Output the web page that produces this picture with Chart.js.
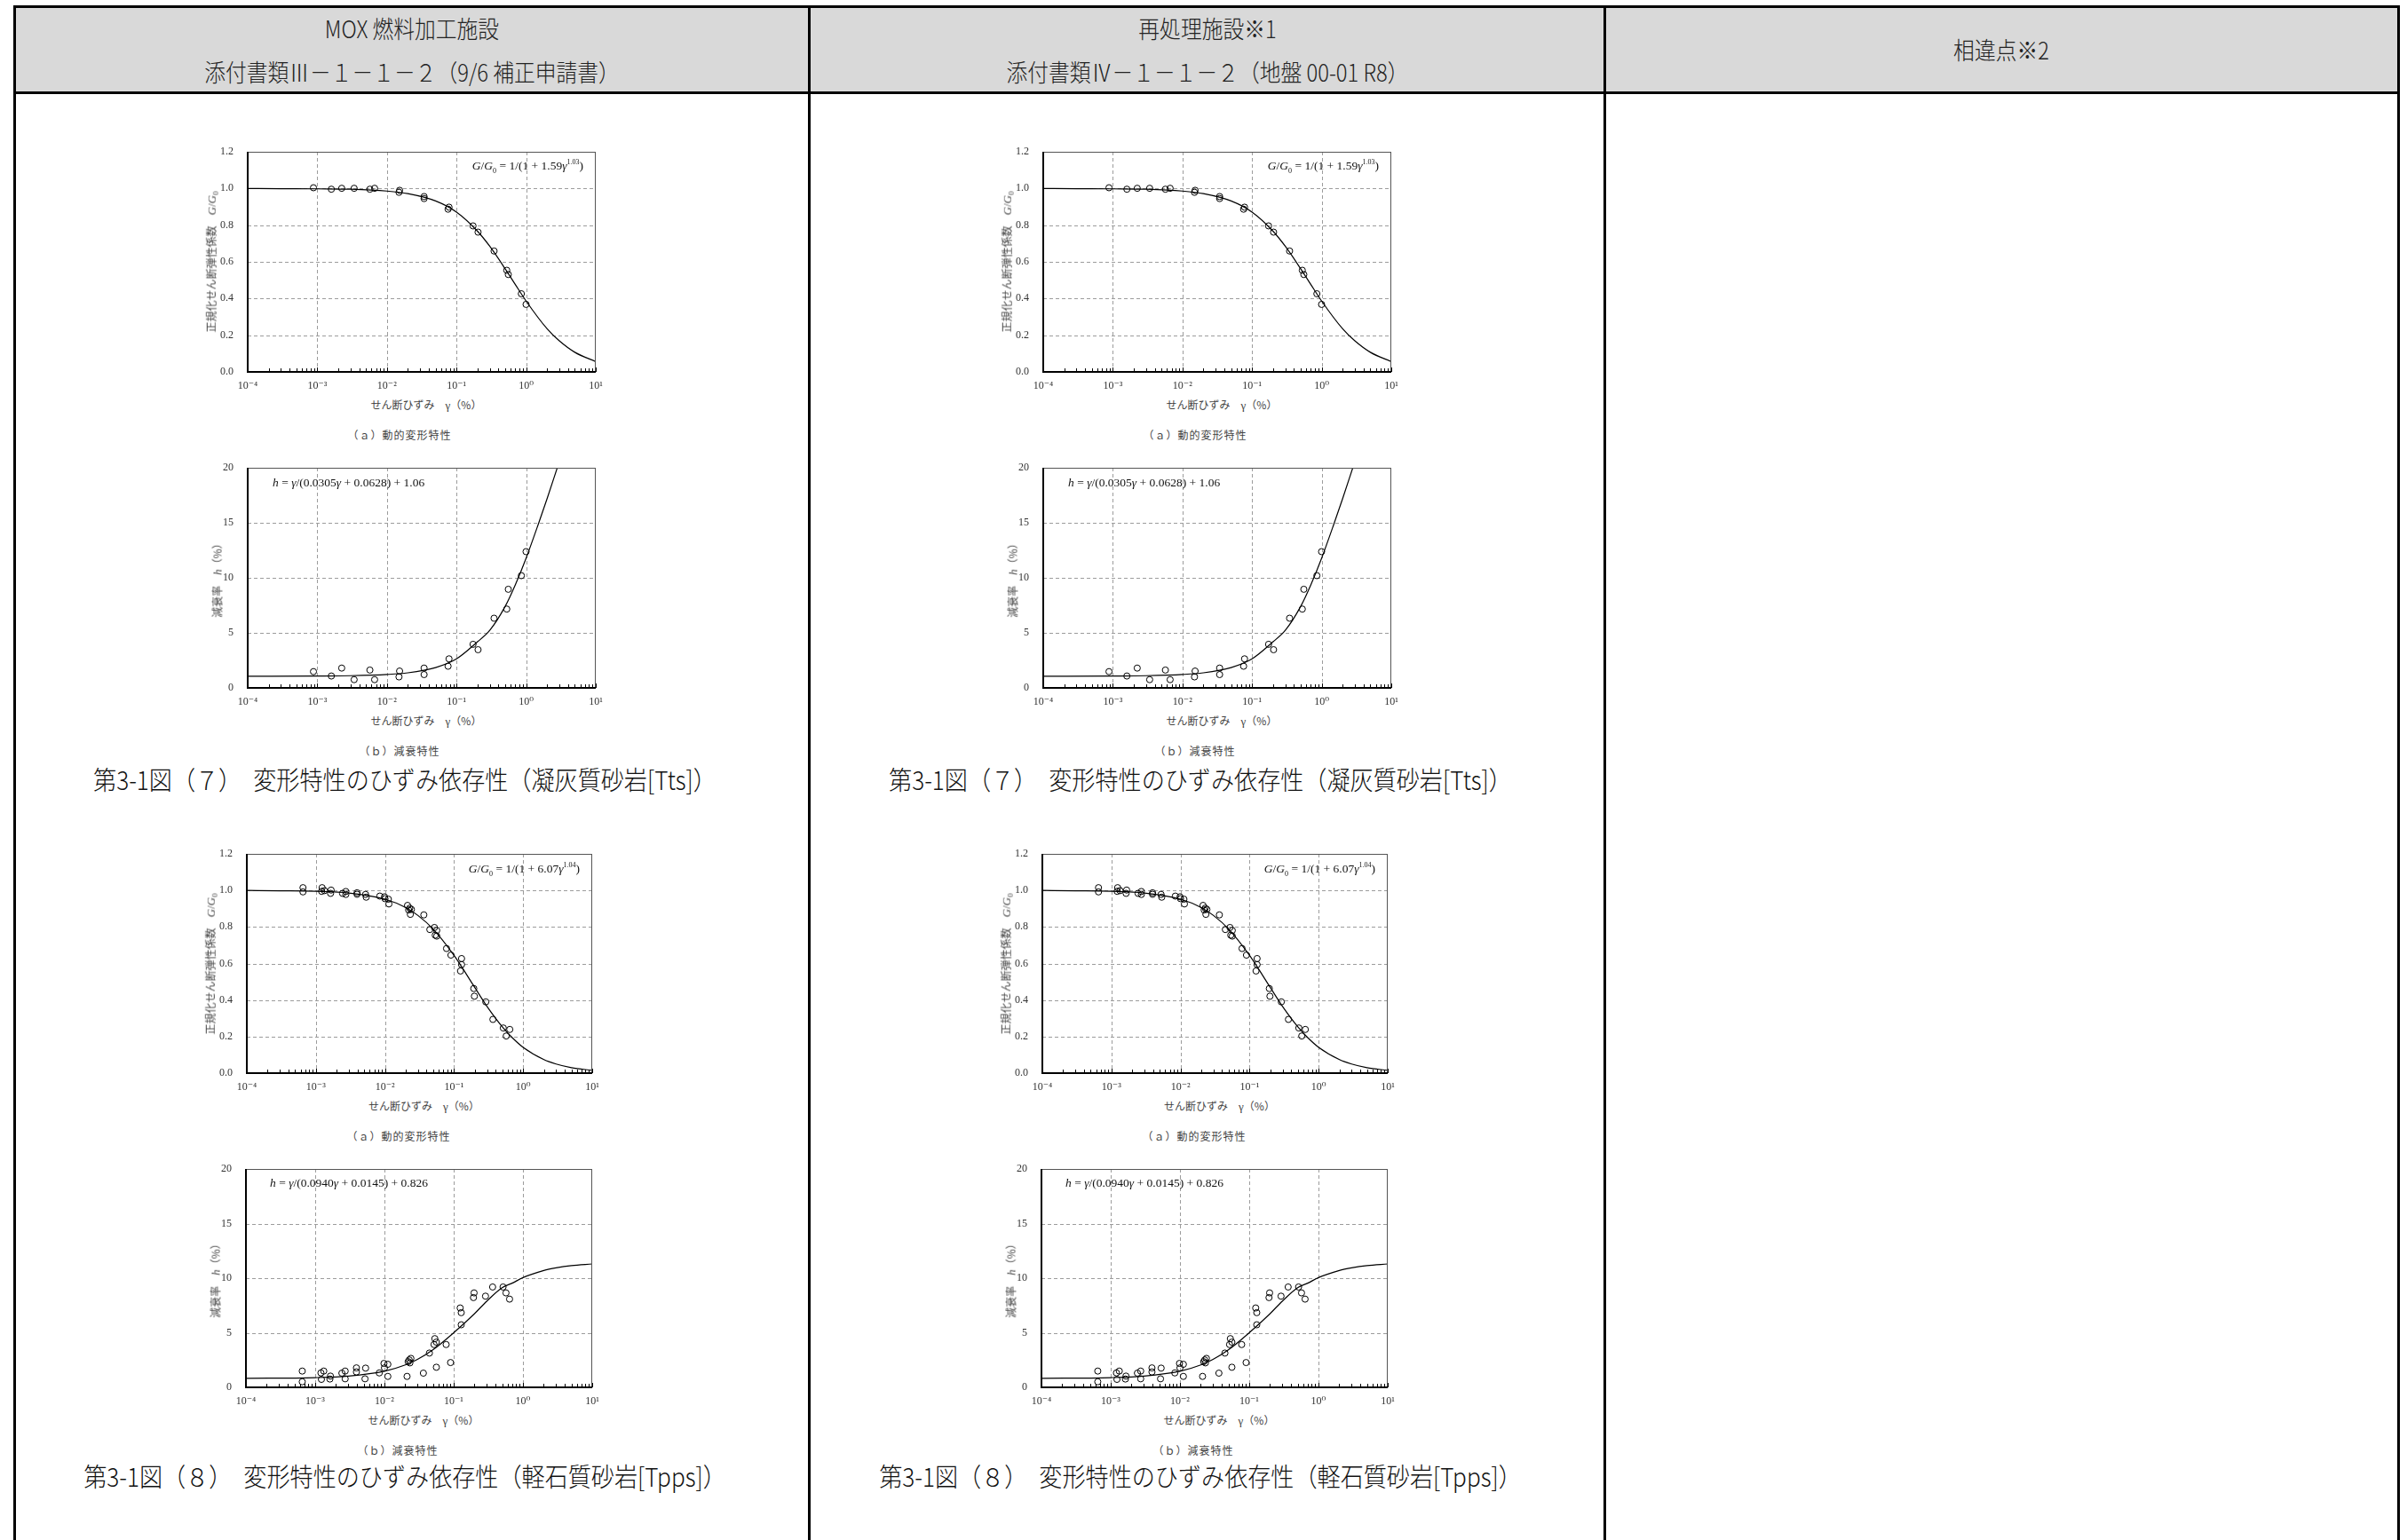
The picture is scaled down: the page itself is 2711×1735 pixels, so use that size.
<!DOCTYPE html>
<html lang="ja">
<head>
<meta charset="utf-8">
<title>変形特性のひずみ依存性</title>
<script src="https://cdn.jsdelivr.net/npm/chart.js@4.4.1/dist/chart.umd.min.js"></script>
<style>
  html, body { margin: 0; padding: 0; background: #fff; }
  body { width: 2711px; height: 1735px; position: relative; overflow: hidden;
         font-family: "Noto Sans CJK JP", "Noto Sans", sans-serif; color: #222; }
  .rule { position: absolute; background: #000; }
  .hdr { position: absolute; background: #d9d9d9; }
  .t { position: absolute; white-space: nowrap; transform: translate(-50%, -50%); line-height: 1; }
  .head { font-size: 27px; color: #222; font-weight: 300; transform: translate(-50%, -50%) scaleX(0.88); }
  .fig { font-size: 29px; color: #111; font-weight: 300; transform: translate(-50%, -50%) scaleX(0.9); }
  .axt { font-size: 12px; color: #444; }
  .cap { font-size: 12px; color: #444; letter-spacing: 1px; }
  .eq { position: absolute; white-space: nowrap; font-family: "Liberation Serif", "DejaVu Serif", serif;
        font-size: 13.5px; color: #111; line-height: 1; transform: translateY(-50%); }
  .eq sub, .eq sup { font-size: 8px; }
  .serif { font-family: "Liberation Serif", "DejaVu Serif", serif; font-size: 13px; }
  .box { position: absolute; }
</style>
</head>
<body>
<script>
// x axis (せん断ひずみ γ, %)
const xDecades = [1e-4, 1e-3, 1e-2, 1e-1, 1, 10];
const xTickLabels = ['10⁻⁴', '10⁻³', '10⁻²', '10⁻¹', '10⁰', '10¹'];
const xMinorSteps = [2, 3, 4, 5, 6, 7, 8, 9];
const gTicks = [0, 0.2, 0.4, 0.6, 0.8, 1.0, 1.2];
const hTicks = [0, 5, 10, 15, 20];

// 凝灰質砂岩[Tts] test points
const ttsGamma = [8.8e-4, 1.59e-3, 2.24e-3, 3.38e-3, 5.69e-3, 6.65e-3, 0.0152, 0.0149, 0.0342, 0.0342,
                  0.078, 0.0756, 0.1726, 0.2037, 0.346, 0.527, 0.554, 0.853, 0.997];
const ttsG = [1.004, 0.996, 1.001, 1.001, 0.996, 1.001, 0.990, 0.979, 0.956, 0.945,
              0.898, 0.887, 0.796, 0.762, 0.659, 0.554, 0.531, 0.426, 0.368];
const ttsH = [1.48, 1.08, 1.80, 0.75, 1.62, 0.75, 1.53, 1.00, 1.80, 1.21,
              2.64, 1.97, 3.96, 3.47, 6.33, 7.16, 8.96, 10.20, 12.38];

// 凝灰質砂岩[Tts] fitted curves
const ttsGCurveX = [1e-4, 3e-4, 1e-3, 3e-3, 1e-2, 2e-2, 5e-2, 0.1, 0.2, 0.3, 0.5, 0.7, 1, 2, 3, 5, 10];
const ttsGCurveY = [1.000, 0.999, 0.998, 0.996, 0.986, 0.972, 0.932, 0.871, 0.767, 0.685, 0.562, 0.476, 0.386, 0.235, 0.169, 0.107, 0.056];
const ttsHCurveX = [1e-4, 1e-3, 3e-3, 1e-2, 2e-2, 5e-2, 0.1, 0.2, 0.3, 0.5, 0.7, 1, 1.5, 2, 2.8];
const ttsHCurveY = [1.06, 1.08, 1.11, 1.22, 1.37, 1.85, 2.64, 4.19, 5.23, 7.41, 9.38, 11.8, 14.9, 17.2, 20.0];

// 軽石質砂岩[Tpps] test points
const tppsGammaG = [6.5e-4, 6.5e-4, 1.23e-3, 1.21e-3, 1.33e-3, 1.66e-3, 1.63e-3, 2.43e-3, 2.71e-3, 2.71e-3,
                    3.94e-3, 3.94e-3, 5.24e-3, 5.35e-3, 8.42e-3, 9.84e-3, 0.0100, 0.0112, 0.0114, 0.0212,
                    0.0220, 0.0228, 0.0241, 0.0233, 0.0365, 0.052, 0.0446, 0.0562, 0.0534, 0.0562,
                    0.0778, 0.0901, 0.1285, 0.1285, 0.124, 0.193, 0.197, 0.288, 0.365, 0.516, 0.569, 0.641];
const tppsG = [1.015, 0.992, 1.015, 0.995, 0.999, 1.002, 0.984, 0.984, 0.994, 0.978,
               0.987, 0.979, 0.978, 0.963, 0.969, 0.965, 0.955, 0.952, 0.926, 0.918,
               0.893, 0.903, 0.896, 0.869, 0.866, 0.797, 0.786, 0.781, 0.755, 0.750,
               0.682, 0.646, 0.627, 0.594, 0.559, 0.463, 0.421, 0.390, 0.294, 0.247, 0.203, 0.239];
const tppsGammaH = [6.5e-4, 6.5e-4, 1.21e-3, 1.23e-3, 1.33e-3, 1.66e-3, 1.63e-3, 2.43e-3, 2.71e-3, 2.71e-3,
                    3.94e-3, 3.94e-3, 5.24e-3, 5.35e-3, 8.42e-3, 9.84e-3, 0.0100, 0.0112, 0.0112, 0.0212,
                    0.0220, 0.0228, 0.0241, 0.0233, 0.0365, 0.0446, 0.052, 0.0534, 0.0562, 0.0562,
                    0.0778, 0.0901, 0.124, 0.1285, 0.1285, 0.193, 0.197, 0.288, 0.365, 0.516, 0.569, 0.641];
const tppsH = [1.49, 0.51, 1.32, 0.73, 1.49, 1.03, 0.76, 1.30, 1.49, 0.78,
               1.78, 1.41, 0.78, 1.76, 1.32, 2.19, 1.78, 2.11, 1.00, 1.00,
               2.35, 2.51, 2.65, 2.24, 1.30, 3.14, 3.92, 4.46, 4.14, 1.84,
               3.92, 2.27, 7.27, 6.84, 5.73, 8.22, 8.65, 8.35, 9.19, 9.19, 8.65, 8.08];

// 軽石質砂岩[Tpps] fitted curves
const tppsGCurveX = [1e-4, 3e-4, 1e-3, 3e-3, 1e-2, 2e-2, 3e-2, 5e-2, 0.1, 0.2, 0.3, 0.5, 0.7, 1, 2, 3, 5, 10];
const tppsGCurveY = [1.000, 0.998, 0.995, 0.986, 0.952, 0.906, 0.863, 0.788, 0.644, 0.468, 0.365, 0.253, 0.193, 0.141, 0.074, 0.050, 0.030, 0.015];
const tppsHCurveX = [1e-4, 1e-3, 3e-3, 1e-2, 2e-2, 3e-2, 5e-2, 0.1, 0.2, 0.3, 0.5, 0.7, 1, 2, 3, 5, 10];
const tppsHCurveY = [0.83, 0.89, 1.03, 1.47, 2.05, 2.56, 3.43, 5.0, 6.75, 7.89, 9.13, 9.54, 10.05, 10.7, 10.94, 11.15, 11.3];

const COL_SHIFT = 896;
const PAD = { l: 50, r: 14, t: 10, b: 26 };

const panels = [
  { L: 279, R: 671, T: 171, B: 419, kind: 'G', px: ttsGamma, py: ttsG, cx: ttsGCurveX, cy: ttsGCurveY,
    eq: '<i>G</i>/<i>G</i><sub>0</sub> = 1/(1 + 1.59<i>γ</i><sup>1.03</sup>)', eqRight: 14, eqDy: 17,
    cap: '（ａ）動的変形特性' },
  { L: 279, R: 671, T: 527, B: 775, kind: 'H', px: ttsGamma, py: ttsH, cx: ttsHCurveX, cy: ttsHCurveY,
    eq: '<i>h</i> = <i>γ</i>/(0.0305<i>γ</i> + 0.0628) + 1.06', eqLeft: 28, eqDy: 17,
    cap: '（ｂ）減衰特性' },
  { L: 278, R: 667, T: 962, B: 1209, kind: 'G', px: tppsGammaG, py: tppsG, cx: tppsGCurveX, cy: tppsGCurveY,
    eq: '<i>G</i>/<i>G</i><sub>0</sub> = 1/(1 + 6.07<i>γ</i><sup>1.04</sup>)', eqRight: 14, eqDy: 18,
    cap: '（ａ）動的変形特性' },
  { L: 277, R: 667, T: 1317, B: 1563, kind: 'H', px: tppsGammaH, py: tppsH, cx: tppsHCurveX, cy: tppsHCurveY,
    eq: '<i>h</i> = <i>γ</i>/(0.0940<i>γ</i> + 0.0145) + 0.826', eqLeft: 27, eqDy: 16,
    cap: '（ｂ）減衰特性' }
];

const figCaptions = [
  { text: '第3-1図（７）　変形特性のひずみ依存性（凝灰質砂岩[Tts]）', y: 877 },
  { text: '第3-1図（８）　変形特性のひずみ依存性（軽石質砂岩[Tpps]）', y: 1662 }
];

function addEl(cls, html, css) {
  const el = document.createElement('div');
  el.className = cls;
  el.innerHTML = html;
  Object.assign(el.style, css);
  document.body.appendChild(el);
  return el;
}

function rule(x, y, w, h) {
  addEl('rule', '', { left: x + 'px', top: y + 'px', width: w + 'px', height: h + 'px' });
}

// table frame
addEl('hdr', '', { left: '18px', top: '9px', width: '2682px', height: '94px' });
rule(15, 6, 2688, 3);
rule(15, 103, 2688, 3);
rule(15, 6, 3, 1735);
rule(910, 6, 3, 1735);
rule(1806, 6, 3, 1735);
rule(2700, 6, 3, 1735);

addEl('t head', 'MOX 燃料加工施設', { left: '464px', top: '31px' });
addEl('t head', '添付書類Ⅲ－１－１－２（9/6 補正申請書）', { left: '464px', top: '80px' });
addEl('t head', '再処理施設※1', { left: '1360px', top: '31px' });
addEl('t head', '添付書類Ⅳ－１－１－２（地盤 00-01 R8）', { left: '1360px', top: '80px' });
addEl('t head', '相違点※2', { left: '2254px', top: '55px' });

const framePlugin = {
  id: 'frame',
  beforeDatasetsDraw(chart) {
    const { ctx, chartArea: a, scales: { x, y } } = chart;
    ctx.save();
    ctx.strokeStyle = '#9c9c9c';
    ctx.lineWidth = 1;
    ctx.setLineDash([4, 3]);
    ctx.beginPath();
    xDecades.slice(1, -1).forEach(v => {
      const p = Math.round(x.getPixelForValue(v)) + 0.5;
      ctx.moveTo(p, a.top); ctx.lineTo(p, a.bottom);
    });
    y.ticks.slice(1, -1).forEach(t => {
      const p = Math.round(y.getPixelForValue(t.value)) + 0.5;
      ctx.moveTo(a.left, p); ctx.lineTo(a.right, p);
    });
    ctx.stroke();
    ctx.restore();
  },
  afterDatasetsDraw(chart) {
    const { ctx, chartArea: a, scales: { x } } = chart;
    ctx.save();
    // inward ticks on the bottom axis
    ctx.strokeStyle = '#000';
    ctx.lineWidth = 1;
    ctx.beginPath();
    xDecades.forEach((d, i) => {
      const p = Math.round(x.getPixelForValue(d)) + 0.5;
      ctx.moveTo(p, a.bottom); ctx.lineTo(p, a.bottom - 5);
      if (i < xDecades.length - 1) {
        xMinorSteps.forEach(m => {
          const q = Math.round(x.getPixelForValue(d * m)) + 0.5;
          ctx.moveTo(q, a.bottom); ctx.lineTo(q, a.bottom - 4);
        });
      }
    });
    ctx.stroke();
    // thin top / right frame
    ctx.strokeStyle = '#555';
    ctx.beginPath();
    ctx.moveTo(a.left, Math.round(a.top) + 0.5); ctx.lineTo(a.right, Math.round(a.top) + 0.5);
    ctx.moveTo(Math.round(a.right) - 0.5, a.top); ctx.lineTo(Math.round(a.right) - 0.5, a.bottom);
    ctx.stroke();
    // thick left / bottom frame
    ctx.strokeStyle = '#000';
    ctx.lineWidth = 2;
    ctx.beginPath();
    ctx.moveTo(Math.round(a.left), a.top); ctx.lineTo(Math.round(a.left), a.bottom + 1);
    ctx.moveTo(a.left - 1, Math.round(a.bottom)); ctx.lineTo(a.right, Math.round(a.bottom));
    ctx.stroke();
    ctx.restore();
  }
};

const tickFont = { family: '"Liberation Serif", "DejaVu Serif", serif', size: 12 };

function makeChart(p, shift) {
  const L = p.L + shift, R = p.R + shift;
  const W = (R - L) + PAD.l + PAD.r;
  const H = (p.B - p.T) + PAD.t + PAD.b;
  const box = addEl('box', '', { left: (L - PAD.l) + 'px', top: (p.T - PAD.t) + 'px',
                                 width: W + 'px', height: H + 'px' });
  const canvas = document.createElement('canvas');
  canvas.width = W; canvas.height = H;
  box.appendChild(canvas);

  const isG = p.kind === 'G';
  const yTicks = isG ? gTicks : hTicks;

  new Chart(canvas, {
    type: 'scatter',
    data: {
      datasets: [
        { data: p.cx.map((v, i) => ({ x: v, y: p.cy[i] })), showLine: true, pointRadius: 0,
          borderColor: '#000', borderWidth: 1.2, cubicInterpolationMode: 'monotone' },
        { data: p.px.map((v, i) => ({ x: v, y: p.py[i] })), pointRadius: 3.5, pointBorderWidth: 1,
          pointBorderColor: '#000', pointBackgroundColor: 'rgba(0,0,0,0)' }
      ]
    },
    options: {
      responsive: false,
      animation: false,
      events: [],
      layout: { padding: { left: 0, right: PAD.r, top: PAD.t, bottom: 0 } },
      plugins: { legend: { display: false }, tooltip: { enabled: false } },
      scales: {
        x: {
          type: 'logarithmic', min: xDecades[0], max: xDecades[xDecades.length - 1],
          grid: { display: false }, border: { display: false },
          afterBuildTicks: s => { s.ticks = xDecades.map(v => ({ value: v })); },
          afterFit: s => { s.height = PAD.b; s.paddingLeft = 0; s.paddingRight = 0; },
          ticks: { autoSkip: false, maxRotation: 0, padding: 1, color: '#333', font: tickFont,
                   callback: (v, i) => xTickLabels[i] }
        },
        y: {
          min: yTicks[0], max: yTicks[yTicks.length - 1],
          grid: { display: false }, border: { display: false },
          afterBuildTicks: s => { s.ticks = yTicks.map(v => ({ value: v })); },
          afterFit: s => { s.width = PAD.l; s.paddingTop = 0; s.paddingBottom = 0; },
          ticks: { padding: 8, color: '#333', font: tickFont,
                   callback: v => isG ? v.toFixed(1) : String(v) }
        }
      }
    },
    plugins: [framePlugin]
  });

  // equation in the plot
  const eqCss = { top: (p.T + p.eqDy) + 'px' };
  if (p.eqRight !== undefined) {
    eqCss.right = (2711 - (R - p.eqRight)) + 'px';
  } else {
    eqCss.left = (L + p.eqLeft) + 'px';
  }
  addEl('eq', p.eq, eqCss);

  // axis titles and sub caption
  const yTitle = isG ? '正規化せん断弾性係数　<i class="serif">G</i><span class="serif">/</span><i class="serif">G</i><sub class="serif" style="font-size:9px">0</sub>'
                     : '減衰率　<i class="serif">h</i>（%）';
  const yt = addEl('t axt', yTitle, { left: (L - (isG ? 39 : 34)) + 'px', top: ((p.T + p.B) / 2) + 'px' });
  yt.style.transform = 'translate(-50%, -50%) rotate(-90deg)';
  addEl('t axt', 'せん断ひずみ　<span class="serif">γ</span>（%）', { left: ((L + R) / 2 + 5) + 'px', top: (p.B + 37) + 'px' });
  addEl('t cap', p.cap, { left: (L + 171) + 'px', top: (p.B + 71) + 'px' });
}

[0, COL_SHIFT].forEach(shift => {
  panels.forEach(p => makeChart(p, shift));
  figCaptions.forEach(c => addEl('t fig', c.text, { left: (456 + shift) + 'px', top: c.y + 'px' }));
});
</script>
</body>
</html>
